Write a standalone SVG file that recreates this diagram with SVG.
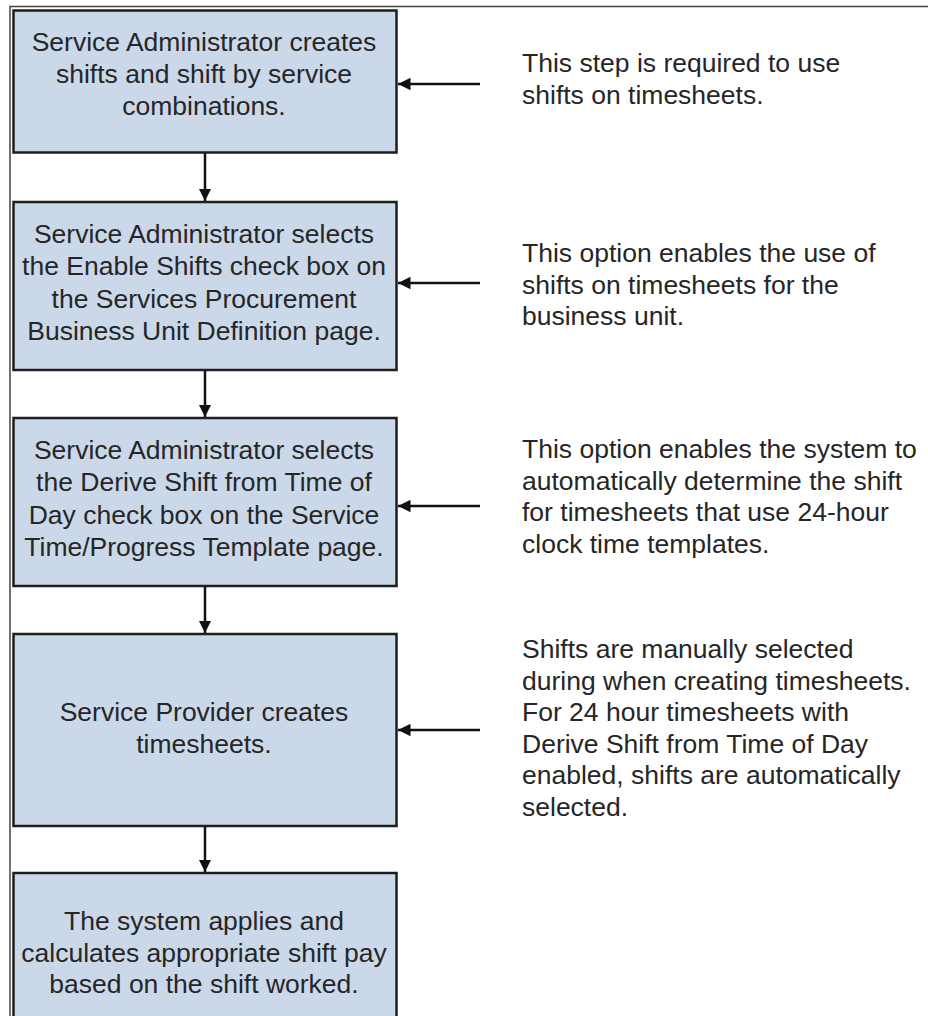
<svg xmlns="http://www.w3.org/2000/svg" width="928" height="1016" viewBox="0 0 928 1016">
<style>
.box{fill:#cbd8ea;stroke:#1e1e1e;stroke-width:2.5}
.bt{font-family:"Liberation Sans",Arial,sans-serif;font-size:26.5px;fill:#262626;text-anchor:middle}
.nt{font-family:"Liberation Sans",Arial,sans-serif;font-size:26.5px;fill:#262626}
.ln{stroke:#111;stroke-width:2.5;fill:none}
.frame{stroke:#444;stroke-width:1.5;fill:none}
</style>
<defs>
<marker id="ah" viewBox="0 0 10 10" refX="10" refY="5" markerWidth="5" markerHeight="5" markerUnits="strokeWidth" orient="auto">
<path d="M0,0 L10,5 L0,10 z" fill="#111"/>
</marker>
</defs>
<rect width="928" height="1016" fill="#fff"/>
<path class="frame" d="M10,1016 V6.5 H928"/>
<g id="connectors">
<line class="ln" x1="205" y1="153" x2="205" y2="201" marker-end="url(#ah)"/>
<line class="ln" x1="205" y1="370" x2="205" y2="417" marker-end="url(#ah)"/>
<line class="ln" x1="205" y1="586" x2="205" y2="633" marker-end="url(#ah)"/>
<line class="ln" x1="205" y1="826" x2="205" y2="872" marker-end="url(#ah)"/>
<line class="ln" x1="480" y1="84" x2="398" y2="84" marker-end="url(#ah)"/>
<line class="ln" x1="480" y1="283" x2="398" y2="283" marker-end="url(#ah)"/>
<line class="ln" x1="480" y1="506" x2="398" y2="506" marker-end="url(#ah)"/>
<line class="ln" x1="480" y1="730" x2="398" y2="730" marker-end="url(#ah)"/>
</g>
<g id="step1">
<rect class="box" x="13.5" y="10.5" width="383" height="142"/>
<text class="bt"><tspan x="204" y="51">Service Administrator creates</tspan><tspan x="204" y="83">shifts and shift by service</tspan><tspan x="204" y="115">combinations.</tspan></text>
</g>
<g id="step2">
<rect class="box" x="13.5" y="202" width="383" height="168"/>
<text class="bt"><tspan x="204" y="243">Service Administrator selects</tspan><tspan x="204" y="275">the Enable Shifts check box on</tspan><tspan x="204" y="308">the Services Procurement</tspan><tspan x="204" y="340">Business Unit Definition page.</tspan></text>
</g>
<g id="step3">
<rect class="box" x="13.5" y="418" width="383" height="168"/>
<text class="bt"><tspan x="204" y="459">Service Administrator selects</tspan><tspan x="204" y="491">the Derive Shift from Time of</tspan><tspan x="204" y="524">Day check box on the Service</tspan><tspan x="204" y="556">Time/Progress Template page.</tspan></text>
</g>
<g id="step4">
<rect class="box" x="13.5" y="634" width="383" height="192"/>
<text class="bt"><tspan x="204" y="721">Service Provider creates</tspan><tspan x="204" y="753">timesheets.</tspan></text>
</g>
<g id="step5">
<rect class="box" x="13.5" y="873" width="383" height="160"/>
<text class="bt"><tspan x="204" y="930">The system applies and</tspan><tspan x="204" y="962">calculates appropriate shift pay</tspan><tspan x="204" y="993">based on the shift worked.</tspan></text>
</g>
<g id="note1">
<text class="nt"><tspan x="522" y="72">This step is required to use</tspan><tspan x="522" y="103.5">shifts on timesheets.</tspan></text>
</g>
<g id="note2">
<text class="nt"><tspan x="522" y="262">This option enables the use of</tspan><tspan x="522" y="293.5">shifts on timesheets for the</tspan><tspan x="522" y="325">business unit.</tspan></text>
</g>
<g id="note3">
<text class="nt"><tspan x="522" y="458">This option enables the system to</tspan><tspan x="522" y="490">automatically determine the shift</tspan><tspan x="522" y="521">for timesheets that use 24-hour</tspan><tspan x="522" y="553">clock time templates.</tspan></text>
</g>
<g id="note4">
<text class="nt"><tspan x="522" y="658">Shifts are manually selected</tspan><tspan x="522" y="689.5">during when creating timesheets.</tspan><tspan x="522" y="721">For 24 hour timesheets with</tspan><tspan x="522" y="752.5">Derive Shift from Time of Day</tspan><tspan x="522" y="784">enabled, shifts are automatically</tspan><tspan x="522" y="815.5">selected.</tspan></text>
</g>
</svg>
